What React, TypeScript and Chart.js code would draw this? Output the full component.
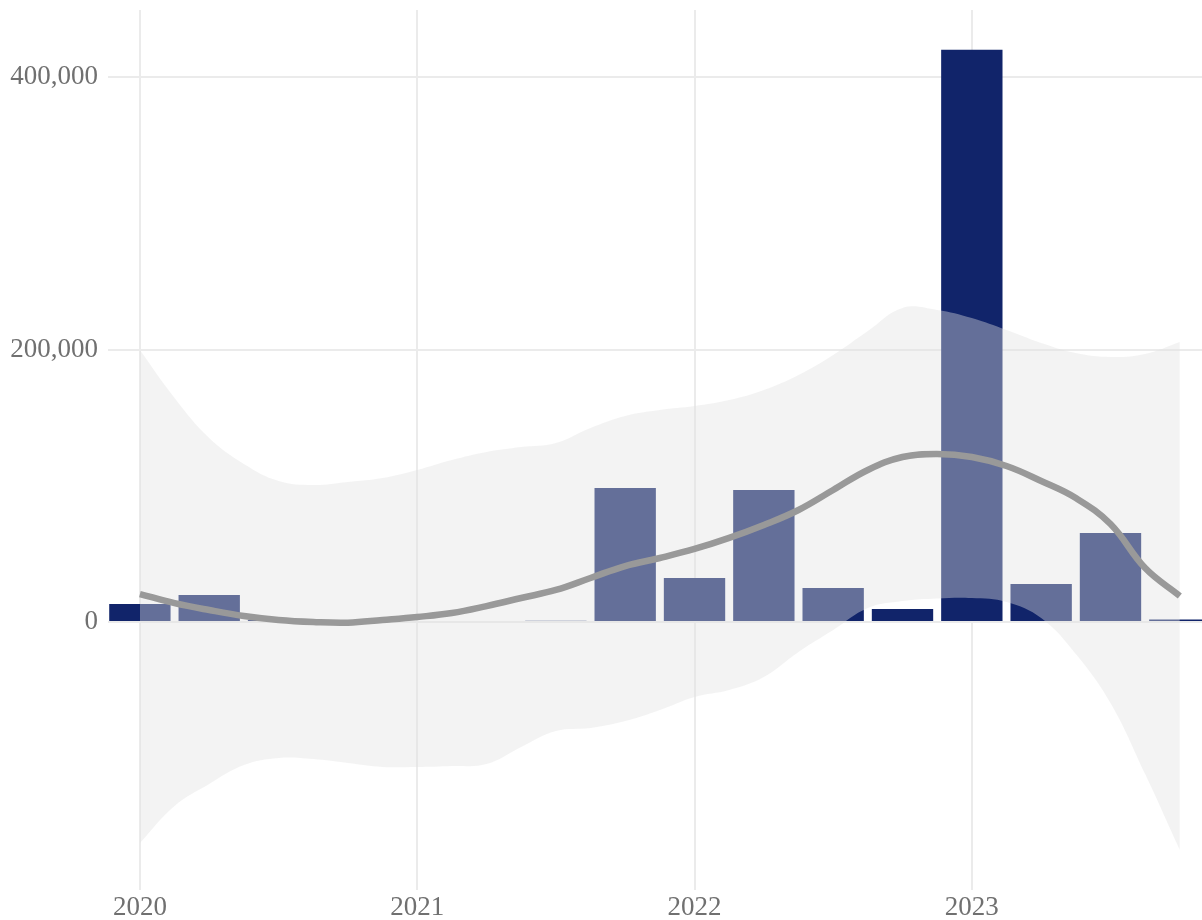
import React, { useEffect, useRef } from "react";
import { Chart, registerables } from "chart.js";

Chart.register(...registerables);

// Quarterly bars
const barPeriods = [2020.0, 2020.25, 2020.5, 2020.75, 2021.0, 2021.25, 2021.5, 2021.75, 2022.0, 2022.25, 2022.5, 2022.75, 2023.0, 2023.25, 2023.5, 2023.75];
const barValues = [13200, 19800, 1500, 0, 0, 0, 1000, 98300, 32300, 96900, 25000, 9500, 420000, 27900, 65300, 1800];

// Smoothed trend (sampled every eighth of a year)
const smoothPeriods = [
  2020.0, 2020.125, 2020.25, 2020.375, 2020.5, 2020.625, 2020.75, 2020.875,
  2021.0, 2021.125, 2021.25, 2021.375, 2021.5, 2021.625, 2021.75, 2021.875,
  2022.0, 2022.125, 2022.25, 2022.375, 2022.5, 2022.625, 2022.75, 2022.875,
  2023.0, 2023.125, 2023.25, 2023.375, 2023.5, 2023.625, 2023.75,
];
const smoothValues = [20500, 13900, 8800, 4400, 1500, 0, -500, 1500, 3700, 6600, 11700, 17600, 23500, 32300, 41100, 47000, 53600, 61700, 71200, 82200, 96900, 111600, 121100, 123300, 121100, 114500, 103500, 91000, 71900, 39600, 19100];
const bandUpper = [199600, 164400, 135000, 116000, 103500, 100600, 102800, 105700, 111600, 118900, 124800, 128400, 131400, 142400, 151200, 155600, 158500, 162900, 170300, 181300, 196000, 213600, 230500, 229000, 223100, 214300, 204800, 197400, 194500, 196700, 205500];
const bandLower = [-162200, -135000, -118900, -105000, -99800, -100600, -103500, -106400, -106400, -105700, -104200, -91700, -80000, -77800, -72700, -64600, -55000, -49900, -40400, -22000, -5900, 10300, 15400, 17300, 17600, 14700, 2900, -23500, -59400, -111600, -167300];

const yTickValues = [0, 200000, 400000];
const xTickValues = [2020, 2021, 2022, 2023];

const FONT = "'Liberation Serif', 'DejaVu Serif', serif";

export default function App() {
  const canvasRef = useRef<HTMLCanvasElement | null>(null);

  useEffect(() => {
    if (!canvasRef.current) return;
    const pts = (xs: number[], ys: number[]) => xs.map((x, i) => ({ x, y: ys[i] }));
    const chart = new Chart(canvasRef.current, {
      type: "bar",
      data: {
        datasets: [
          {
            type: "line",
            data: pts(smoothPeriods, smoothValues),
            borderColor: "#999999",
            borderWidth: 6.5,
            pointRadius: 0,
            fill: false,
            tension: 0.4,
            order: 1,
          } as any,
          {
            type: "line",
            data: pts(smoothPeriods, bandUpper),
            borderWidth: 0,
            borderColor: "rgba(0,0,0,0)",
            backgroundColor: "rgba(226,226,226,0.4)",
            pointRadius: 0,
            fill: "+1",
            tension: 0.4,
            order: 2,
          } as any,
          {
            type: "line",
            data: pts(smoothPeriods, bandLower),
            borderWidth: 0,
            borderColor: "rgba(0,0,0,0)",
            pointRadius: 0,
            fill: false,
            tension: 0.4,
            order: 2,
          } as any,
          {
            type: "bar",
            data: pts(barPeriods, barValues),
            backgroundColor: "#11246A",
            borderWidth: 0,
            barPercentage: 0.885,
            categoryPercentage: 1,
            order: 3,
          } as any,
        ],
      },
      options: {
        animation: false,
        responsive: true,
        maintainAspectRatio: false,
        layout: { padding: { top: 10, right: 0, left: 0, bottom: 0 } },
        plugins: { legend: { display: false }, tooltip: { enabled: false } },
        scales: {
          x: {
            type: "linear",
            offset: false,
            min: 2019.885,
            max: 2023.83,
            afterBuildTicks: (s: any) => {
              s.ticks = xTickValues.map((v) => ({ value: v }));
            },
            afterFit: (s: any) => {
              s.height = 30;
              s.paddingLeft = 0;
              s.paddingRight = 0;
            },
            grid: { color: "#EBEBEB", lineWidth: 2, drawTicks: false, offset: false },
            border: { display: false },
            ticks: {
              padding: 2,
              color: "#707070",
              font: { family: FONT, size: 27 },
              callback: (v: any) => String(v),
              maxRotation: 0,
            },
          },
          y: {
            type: "linear",
            min: -196700,
            max: 449200,
            afterBuildTicks: (s: any) => {
              s.ticks = yTickValues.map((v) => ({ value: v }));
            },
            afterFit: (s: any) => {
              s.width = 108;
              s.paddingTop = 0;
              s.paddingBottom = 0;
            },
            grid: { color: "#EBEBEB", lineWidth: 2, drawTicks: false },
            border: { display: false },
            ticks: {
              padding: 10,
              color: "#707070",
              font: { family: FONT, size: 27 },
              callback: (v: any) => Number(v).toLocaleString("en-US"),
            },
          },
        },
      },
    });
    return () => chart.destroy();
  }, []);

  return (
    <div style={{ position: "absolute", left: 0, top: 0, width: 1202, height: 920, background: "#ffffff" }}>
      <canvas ref={canvasRef} />
    </div>
  );
}
